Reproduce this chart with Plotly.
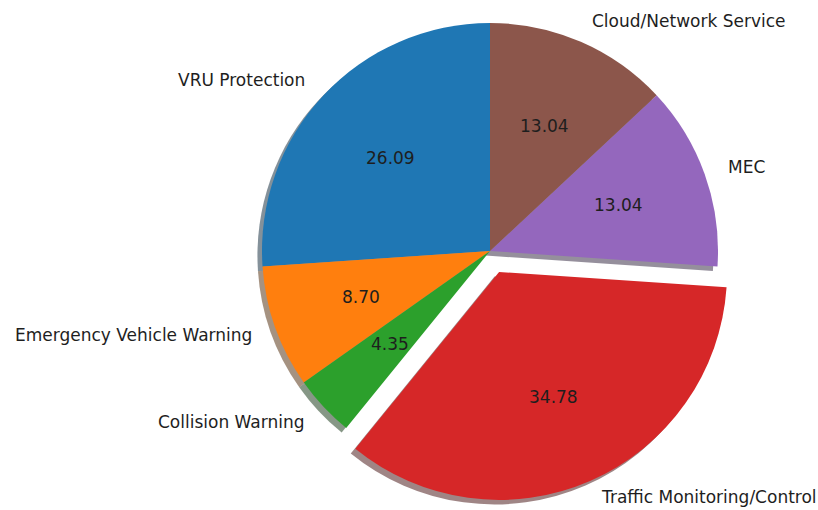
import math
import plotly.graph_objects as go

# Share of use cases (percent), drawn counterclockwise from 12 o'clock
labels = ["VRU Protection", "Emergency Vehicle Warning", "Collision Warning",
          "Traffic Monitoring/Control", "MEC", "Cloud/Network Service"]
shares = [26.09, 8.70, 4.35, 34.78, 13.04, 13.04]
explode = [0, 0, 0, 0.1, 0, 0]
colors = ["#1f77b4", "#ff7f0e", "#2ca02c", "#d62728", "#9467bd", "#8c564b"]

W, H = 818, 510
CX, CY = 490, 251          # pie centre, pixels from top-left
R = 228                    # pie radius in pixels
PULL = max(explode)
HALF = R * (1 + PULL)      # plotly shrinks the radius to leave room for the pull
SHADOW = 0.02 * R          # shadow offset (left and down)
FONT = dict(family="DejaVu Sans", size=17, color="#1e1e1e")
EDGE = 13                  # keep label text inside the page

total = sum(shares)
# plotly's counterclockwise pies end the first slice at `rotation`;
# turn it back so the first slice starts at 12 o'clock instead
ROTATION = -360.0 * shares[0] / total


def domain(cx, cy):
    return dict(x=[(cx - HALF) / W, (cx + HALF) / W],
                y=[max(0.0, 1 - (cy + HALF) / H), min(1.0, 1 - (cy - HALF) / H)])


def shade(hex_color):
    r, g, b = (int(hex_color[i:i + 2], 16) for i in (1, 3, 5))
    return f"rgba({0.3 * r:.0f},{0.3 * g:.0f},{0.3 * b:.0f},0.5)"


fig = go.Figure()

# drop shadow: the same pie, darkened and offset
fig.add_trace(go.Pie(
    labels=labels, values=shares, sort=False, direction="counterclockwise",
    rotation=ROTATION, pull=explode, textinfo="none", hoverinfo="skip",
    marker=dict(colors=[shade(c) for c in colors], line=dict(width=0)),
    domain=domain(CX - SHADOW, CY + SHADOW), showlegend=False,
))

fig.add_trace(go.Pie(
    labels=labels, values=shares, sort=False, direction="counterclockwise",
    rotation=ROTATION, pull=explode, textinfo="none", hoverinfo="label+value",
    marker=dict(colors=colors, line=dict(width=0)),
    domain=domain(CX, CY), showlegend=False,
))

# slice labels (1.1 r) and values (0.6 r), placed along each slice's mid-angle
annotations = []
theta = 90.0
for lab, v, ex in zip(labels, shares, explode):
    span = 360.0 * v / total
    mid = math.radians(theta + span / 2)
    theta += span
    cx = CX + ex * R * math.cos(mid)
    cy = CY - ex * R * math.sin(mid)
    lx = cx + 1.1 * R * math.cos(mid)
    ly = cy - 1.1 * R * math.sin(mid)
    ly = min(max(ly, EDGE), H - EDGE)
    annotations.append(dict(
        x=lx / W, y=1 - ly / H, xref="paper", yref="paper", text=lab,
        showarrow=False, xanchor="left" if math.cos(mid) > 0 else "right",
        yanchor="middle", font=FONT,
    ))
    px = cx + 0.6 * R * math.cos(mid)
    py = cy - 0.6 * R * math.sin(mid)
    annotations.append(dict(
        x=px / W, y=1 - py / H, xref="paper", yref="paper", text=f"{v:.2f}",
        showarrow=False, xanchor="center", yanchor="middle", font=FONT,
    ))

fig.update_layout(
    width=W, height=H, margin=dict(l=0, r=0, t=0, b=0),
    paper_bgcolor="white", plot_bgcolor="white",
    annotations=annotations,
)

fig.write_html("out.html")
